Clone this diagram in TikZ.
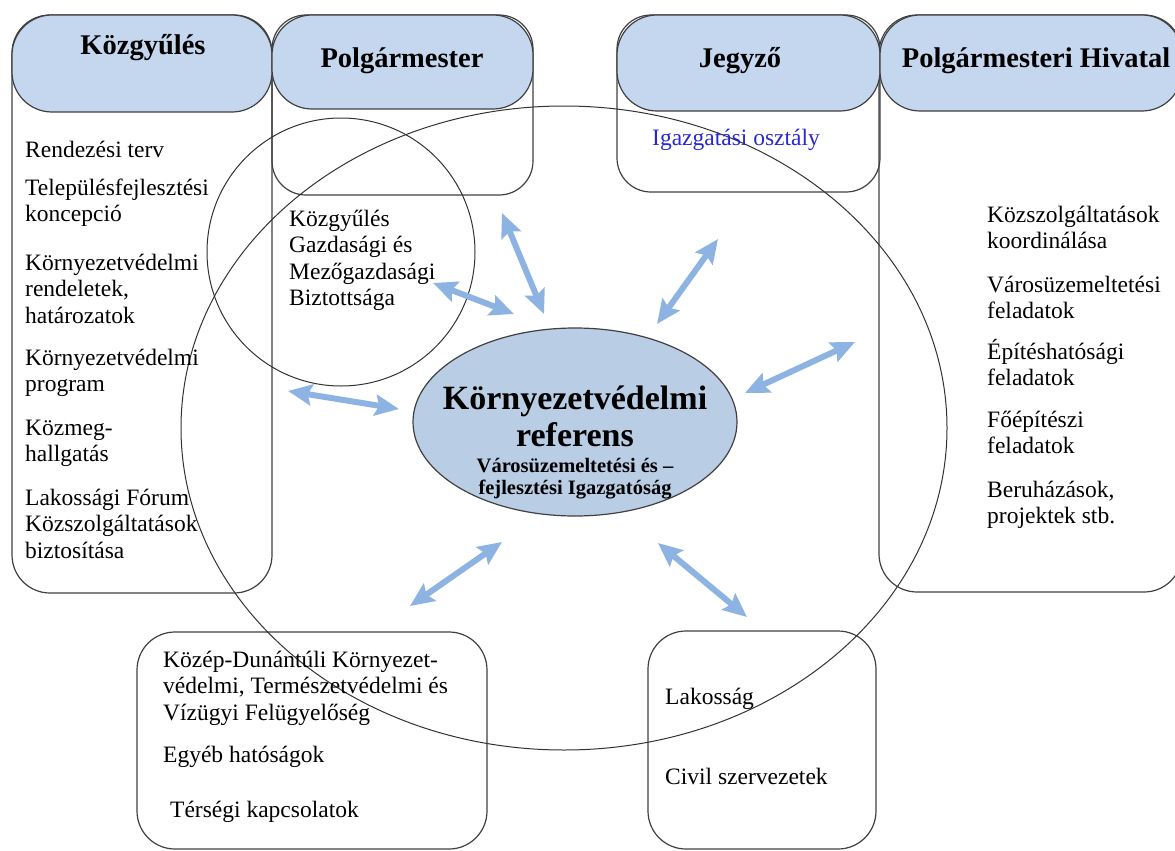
\documentclass[tikz,border=0pt]{standalone}
\usepackage{fontspec}
\setmainfont{Liberation Serif}
\usetikzlibrary{arrows.meta,fit,shapes.geometric}
\definecolor{hdrfill}{RGB}{197,215,239}
\definecolor{ctrfill}{RGB}{185,205,229}
\definecolor{arrowblue}{RGB}{141,179,226}
\definecolor{boxline}{RGB}{64,64,64}
\definecolor{ringline}{RGB}{50,50,50}
\definecolor{linkblue}{RGB}{40,40,210}
\tikzset{
  body/.style={draw=boxline, line width=1.2pt, rounded corners=38pt, inner sep=0pt, outer sep=0pt},
  header/.style={draw=boxline, fill=hdrfill, line width=1.2pt, rounded corners=40pt, inner sep=0pt, outer sep=0pt},
  ring/.style={draw=ringline, line width=1pt, inner sep=0pt, outer sep=0pt},
  title/.style={font=\fontsize{28.5}{32}\selectfont\bfseries, anchor=base, inner sep=0pt},
  txt/.style={font=\fontsize{23.5}{26.5}\selectfont, align=left, anchor=base west, inner sep=0pt},
  link/.style={arrowblue, line width=6pt, {Stealth[length=24pt,width=21pt,inset=4pt]}-{Stealth[length=24pt,width=21pt,inset=4pt]}}
}
\begin{document}
\begin{tikzpicture}[x=1pt,y=-1pt]
\useasboundingbox (0,0) rectangle (1175,851);
% bodies
\node[body, fit={(12,15) (272,593)}] (kgybody) {};
\node[body, rounded corners=34pt, fit={(272,15) (533,195)}] (pmbody) {};
\node[body, rounded corners=34pt, fit={(617,15) (880,192)}] (jzbody) {};
\node[body, fit={(879,15) (1182,592)}] (hvbody) {};
\node[body, fit={(137,632) (487,849)}] (kozep) {};
\node[body, fit={(648,631) (876,849)}] (lakbox) {};
% headers
\node[header, fit={(12,15) (272,112)}] (kgyhead) {};
\node[header, fit={(272,15) (533,109)}] (pmhead) {};
\node[header, fit={(617,15) (880,111)}] (jzhead) {};
\node[header, fit={(880,15) (1182,111)}] (hvhead) {};
% rings
\node[ring, ellipse, minimum width=766pt, minimum height=644pt] (bigring) at (564,428) {};
\node[ring, circle, minimum size=268pt] (smallring) at (341,252) {};
% centre
\node[ellipse, draw=boxline, fill=ctrfill, line width=1.2pt, minimum width=324pt, minimum height=188pt, inner sep=0pt] (ctr) at (575,422) {};
\node[font=\fontsize{34}{37}\selectfont\bfseries, align=center, anchor=base, inner sep=0pt] (ctrtitle) at (575,446) {Környezetvédelmi\\referens};
\node[font=\fontsize{20.5}{22}\selectfont\bfseries, align=center, anchor=base, inner sep=0pt] (ctrsub) at (575,494) {Városüzemeltetési és –\\fejlesztési Igazgatóság};
% titles
\node[title] (t1) at (143,55) {Közgyűlés};
\node[title] (t2) at (402,67) {Polgármester};
\node[title] (t3) at (740,67) {Jegyző};
\node[title] (t4) at (1036,67) {Polgármesteri Hivatal};
% left column (anchor = baseline of last line)
\node[txt] (l1) at (25,157) {Rendezési terv};
\node[txt] (l2) at (25,221.5) {Településfejlesztési\\koncepció};
\node[txt] (l3) at (25,323) {Környezetvédelmi\\rendeletek,\\határozatok};
\node[txt] (l4) at (25,391.5) {Környezetvédelmi\\program};
\node[txt] (l5) at (25,461.5) {Közmeg-\\hallgatás};
\node[txt] (l6) at (25,558) {Lakossági Fórum\\Közszolgáltatások\\biztosítása};
% circle text
\node[txt] (c1) at (289,305.5) {Közgyűlés\\Gazdasági és\\Mezőgazdasági\\Biztottsága};
% jegyzo
\node[txt, text=linkblue] (j1) at (652,145) {Igazgatási osztály};
% hivatal
\node[txt] (h1) at (987,248.5) {Közszolgáltatások\\koordinálása};
\node[txt] (h2) at (987,318.5) {Városüzemeltetési\\feladatok};
\node[txt] (h3) at (987,385.5) {Építéshatósági\\feladatok};
\node[txt] (h4) at (987,453.5) {Főépítészi\\feladatok};
\node[txt] (h5) at (987,523.5) {Beruházások,\\projektek stb.};
% bottom boxes
\node[txt] (b1) at (163,720) {Közép-Dunántúli Környezet-\\védelmi, Természetvédelmi és\\Vízügyi Felügyelőség};
\node[txt] (b2) at (163,762) {Egyéb hatóságok};
\node[txt] (b3) at (170,817) {Térségi kapcsolatok};
\node[txt] (k1) at (665,704) {Lakosság};
\node[txt] (k2) at (665,784) {Civil szervezetek};
% arrows
\coordinate (a1s) at (433,283); \coordinate (a1e) at (514,314);
\coordinate (a2s) at (502,213); \coordinate (a2e) at (544,314);
\coordinate (a3s) at (718,239); \coordinate (a3e) at (657,324);
\coordinate (a4s) at (855,342); \coordinate (a4e) at (745,393);
\coordinate (a5s) at (288,391); \coordinate (a5e) at (399,409);
\coordinate (a6s) at (502,542); \coordinate (a6e) at (410,606);
\coordinate (a7s) at (658,543); \coordinate (a7e) at (747,617);
\draw[link] (a1s) -- (a1e);
\draw[link] (a2s) -- (a2e);
\draw[link] (a3s) -- (a3e);
\draw[link] (a4s) -- (a4e);
\draw[link] (a5s) -- (a5e);
\draw[link] (a6s) -- (a6e);
\draw[link] (a7s) -- (a7e);
\end{tikzpicture}
\end{document}
